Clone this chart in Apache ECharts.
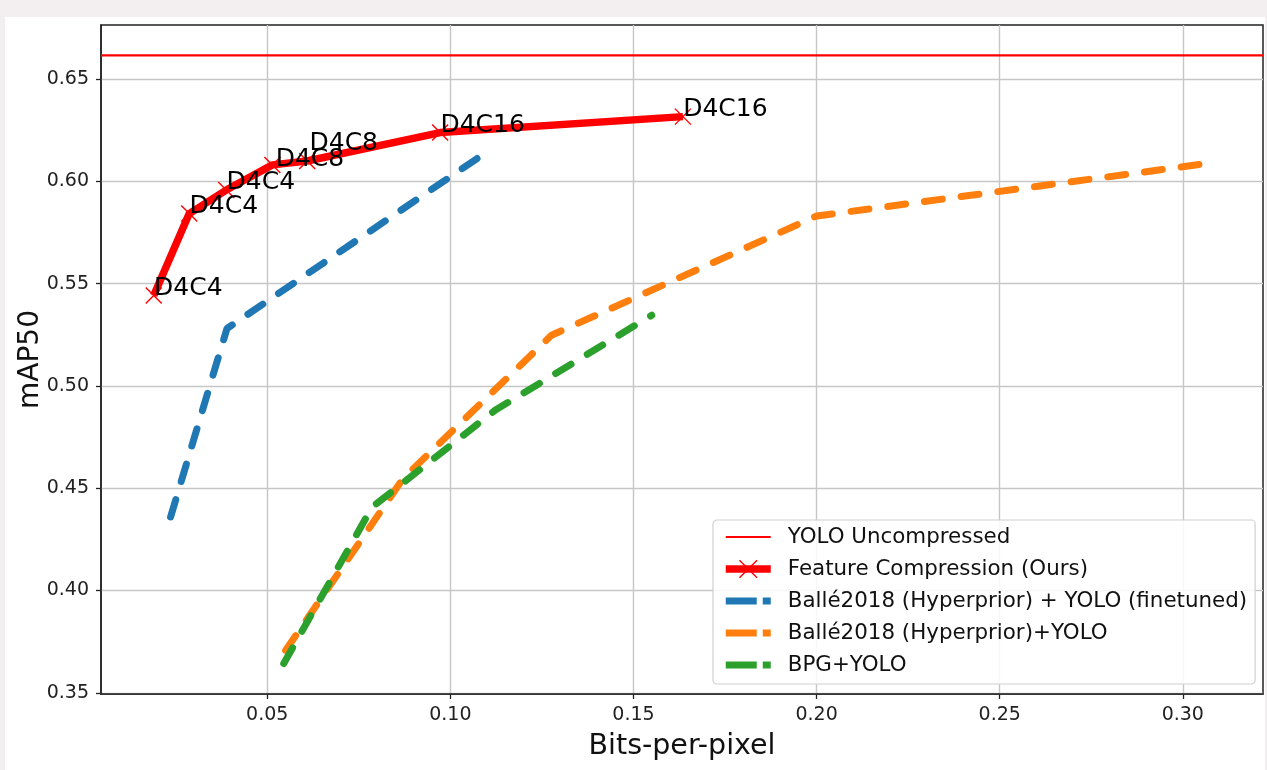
<!DOCTYPE html>
<html><head><meta charset="utf-8">
<script src="https://cdn.jsdelivr.net/npm/echarts@6/dist/echarts.min.js"></script>
<style>
html,body{margin:0;padding:0;background:#f3eeef;overflow:hidden;}
#bg{position:absolute;left:5px;top:17px;width:1260px;height:753px;background:#fff;}
#chart{position:absolute;left:0;top:0;width:1267px;height:770px;}
</style></head><body>
<div id="bg"></div><div id="chart"></div>
<script>
// ---- data ----
const xTicks = [0.05, 0.10, 0.15, 0.20, 0.25, 0.30];
const yTicks = [0.35, 0.40, 0.45, 0.50, 0.55, 0.60, 0.65];
const X_MIN = 0.0046, X_MAX = 0.3219;
const Y_MIN = 0.3494, Y_MAX = 0.6765;

const yoloUncompressed = 0.6616;

const oursBpp = [0.0190, 0.0287, 0.0388, 0.0514, 0.0609, 0.0972, 0.1635];
const oursMap = [0.5442, 0.5843, 0.5958, 0.6081, 0.6100, 0.6239, 0.6317];
const oursLabels = ['D4C4', 'D4C4', 'D4C4', 'D4C8', 'D4C8', 'D4C16', 'D4C16'];

const balleFtBpp = [0.0236, 0.0390, 0.1095];
const balleFtMap = [0.4360, 0.5281, 0.6139];

const balleBpp = [0.0550, 0.0871, 0.1276, 0.2000, 0.3075];
const balleMap = [0.3707, 0.4548, 0.5248, 0.5831, 0.6090];

const bpgBpp = [0.0545, 0.0786, 0.1122, 0.1550];
const bpgMap = [0.3643, 0.4407, 0.4881, 0.5346];

const seriesNames = ['YOLO Uncompressed', 'Feature Compression (Ours)',
  'Ballé2018 (Hyperprior) + YOLO (finetuned)', 'Ballé2018 (Hyperprior)+YOLO', 'BPG+YOLO'];

// ---- chart ----
const FONT = 'DejaVu Sans';
const zip = (a, b) => a.map((v, i) => [v, b[i]]);
// label anchor relative to the marker's box top-left (marker box is 16px)
const labelPos = {3: [12, 16], 4: [11, 4]};
const defaultLabelPos = [9, 14];

const chart = echarts.init(document.getElementById('chart'), null, {renderer: 'canvas'});
const dashStyle = (color) => ({color: color, width: 7, type: [18, 19], cap: 'round'});
const legendDash = {type: [31, 6], cap: 'butt'};

const option = {
  animation: false,
  backgroundColor: 'transparent',
  textStyle: {fontFamily: FONT},
  grid: {left: 101, right: 4, top: 25, bottom: 76, show: true, borderColor: '#222', borderWidth: 1.5,
         backgroundColor: 'transparent', outerBoundsMode: 'none', containLabel: false},
  legend: {
    orient: 'vertical', left: 713, top: 520,
    data: seriesNames.map((n, i) => {
      if (i === 1) return {name: n};
      const item = {name: n, itemStyle: {opacity: 0}};
      if (i >= 2) item.lineStyle = legendDash;
      return item;
    }),
    itemWidth: 45, itemHeight: 22, itemGap: 8,
    padding: [5, 8, 7, 9],
    backgroundColor: 'rgba(255,255,255,0.85)', borderColor: '#d0d0d0', borderWidth: 1.2, borderRadius: 4,
    textStyle: {fontFamily: FONT, fontSize: 21.4, color: '#111', lineHeight: 24, padding: [0, 0, 0, 12]},
    lineStyle: {width: 'inherit'},
    itemStyle: {borderWidth: 'inherit'},
    selectedMode: false
  },
  xAxis: {
    type: 'value', min: X_MIN, max: X_MAX, minInterval: 0.05, maxInterval: 0.05,
    axisLine: {show: true, onZero: false, lineStyle: {color: '#222', width: 1.5}},
    axisTick: {show: true, length: 5, customValues: xTicks, lineStyle: {color: '#222', width: 1.3}},
    axisLabel: {customValues: xTicks, formatter: v => v.toFixed(2), fontSize: 19, color: '#222', margin: 12, fontFamily: FONT},
    splitLine: {show: true, lineStyle: {color: '#c6c6c6', width: 1.4}},
    name: 'Bits-per-pixel', nameLocation: 'middle', nameGap: 38, nameMoveOverlap: false,
    nameTextStyle: {fontSize: 28.5, color: '#111', fontFamily: FONT}
  },
  yAxis: {
    type: 'value', min: Y_MIN, max: Y_MAX, minInterval: 0.05, maxInterval: 0.05,
    axisLine: {show: true, onZero: false, lineStyle: {color: '#222', width: 1.5}},
    axisTick: {show: true, length: 5, customValues: yTicks, lineStyle: {color: '#222', width: 1.3}},
    axisLabel: {customValues: yTicks, formatter: v => v.toFixed(2), fontSize: 19, color: '#222', margin: 12, fontFamily: FONT},
    splitLine: {show: true, lineStyle: {color: '#c6c6c6', width: 1.4}},
    name: 'mAP50', nameLocation: 'middle', nameGap: 56, nameRotate: 90, nameMoveOverlap: false,
    nameTextStyle: {fontSize: 28, color: '#111', fontFamily: FONT}
  },
  series: [
    {
      name: seriesNames[0], type: 'line', symbol: 'none', z: 2,
      data: [[X_MIN, yoloUncompressed], [X_MAX, yoloUncompressed]],
      lineStyle: {color: '#ff0000', width: 2.2}, itemStyle: {color: '#ff0000'}
    },
    {
      name: seriesNames[1], type: 'line', z: 3,
      data: zip(oursBpp, oursMap).map((p, i) => ({
        value: p,
        label: {position: labelPos[i] || defaultLabelPos}
      })),
      symbol: 'path://M0,0L10,10M10,0L0,10', symbolSize: 16, showSymbol: true,
      lineStyle: {color: '#ff0000', width: 7.5, join: 'round'},
      itemStyle: {color: '#ff0000', borderColor: '#ff0000', borderWidth: 1.4},
      label: {
        show: true, position: defaultLabelPos, align: 'left', verticalAlign: 'bottom',
        fontSize: 25, lineHeight: 25, color: '#000', fontFamily: FONT,
        formatter: p => oursLabels[p.dataIndex]
      },
      labelLayout: {hideOverlap: false}
    },
    {
      name: seriesNames[2], type: 'line', symbol: 'none', z: 4,
      data: zip(balleFtBpp, balleFtMap),
      lineStyle: dashStyle('#1f77b4'), itemStyle: {color: '#1f77b4'}
    },
    {
      name: seriesNames[3], type: 'line', symbol: 'none', z: 5,
      data: zip(balleBpp, balleMap),
      lineStyle: dashStyle('#ff7f0e'), itemStyle: {color: '#ff7f0e'}
    },
    {
      name: seriesNames[4], type: 'line', symbol: 'none', z: 6,
      data: zip(bpgBpp, bpgMap),
      lineStyle: dashStyle('#2ca02c'), itemStyle: {color: '#2ca02c'}
    }
  ]
};
chart.setOption(option);
</script>
</body></html>
